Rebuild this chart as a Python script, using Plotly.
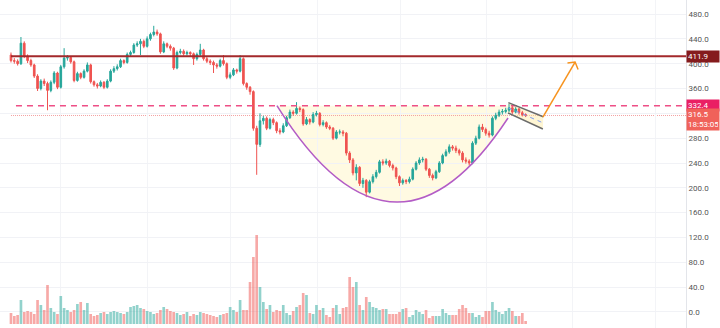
import plotly.graph_objects as go

# ---------------- data ----------------
first_open = 414
closes = [405, 404, 400, 433, 412, 405, 398, 380, 360, 372,
          368, 357, 370, 385, 362, 395, 409, 410, 403, 373,
          384, 378, 388, 398, 371, 366, 364, 370, 362, 372,
          388, 392, 395, 405, 402, 415, 418, 430, 432, 436,
          428, 440, 447, 451, 448, 419, 432, 428, 425, 393,
          418, 420, 416, 418, 416, 408, 415, 422, 408, 404,
          402, 398, 396, 405, 400, 378, 382, 390, 388, 408,
          368, 362, 355, 296, 270, 308, 312, 296, 310, 305,
          292, 290, 300, 313, 322, 320, 328, 326, 303, 310,
          306, 318, 320, 302, 305, 298, 296, 280, 290, 290,
          288, 256, 245, 224, 233, 207, 212, 193, 210, 218,
          225, 242, 240, 243, 236, 232, 218, 208, 212, 210,
          214, 230, 240, 245, 246, 230, 220, 216, 226, 240,
          252, 258, 266, 264, 260, 256, 245, 243, 240, 272,
          280, 298, 294, 288, 285, 312, 317, 322, 323, 325,
          329, 322, 327, 321, 318, 316.5]
highs = [418, 409, 407, 443, 436, 415, 408, 400, 383, 375,
         376, 371, 373, 388, 387, 398, 425, 414, 412, 405,
         387, 386, 391, 402, 400, 373, 369, 373, 372, 375,
         391, 396, 399, 408, 407, 418, 421, 433, 436, 440,
         439, 444, 450, 461, 455, 450, 436, 434, 431, 427,
         421, 424, 423, 421, 420, 418, 418, 432, 424, 411,
         407, 405, 401, 408, 414, 402, 386, 393, 392, 414,
         410, 370, 364, 357, 300, 320, 316, 315, 313, 313,
         307, 296, 304, 316, 326, 325, 338, 331, 328, 314,
         312, 322, 324, 322, 309, 307, 301, 298, 293, 294,
         293, 290, 259, 248, 238, 235, 216, 214, 213, 222,
         229, 245, 246, 247, 245, 239, 234, 220, 215, 214,
         218, 233, 243, 249, 250, 248, 232, 223, 229, 243,
         255, 262, 270, 269, 268, 263, 259, 249, 246, 275,
         284, 302, 303, 297, 292, 315, 321, 326, 327, 329,
         335, 332, 330, 329, 324, 320]
lows = [402, 400, 397, 398, 409, 401, 395, 377, 356, 357,
        364, 325, 354, 367, 359, 360, 392, 405, 400, 370,
        371, 375, 376, 386, 368, 363, 360, 362, 359, 360,
        370, 385, 389, 393, 399, 400, 412, 416, 427, 414,
        425, 426, 437, 444, 445, 416, 417, 425, 421, 390,
        391, 415, 413, 413, 412, 398, 405, 412, 405, 401,
        398, 385, 392, 394, 397, 375, 375, 380, 384, 386,
        365, 358, 350, 292, 221, 266, 302, 293, 294, 301,
        288, 286, 288, 298, 311, 316, 318, 322, 300, 301,
        302, 304, 315, 299, 299, 295, 293, 277, 278, 286,
        283, 252, 240, 220, 212, 203, 200, 185, 191, 207,
        215, 223, 236, 237, 233, 228, 214, 203, 205, 206,
        207, 212, 228, 237, 241, 227, 216, 212, 214, 224,
        238, 250, 255, 260, 256, 252, 241, 239, 236, 238,
        269, 278, 290, 284, 281, 283, 309, 314, 318, 320,
        322, 319, 320, 318, 315, 314]
volumes = [11, 8, 9, 24, 12, 13, 12, 10, 24, 19,
           14, 39, 16, 12, 10, 28, 16, 14, 12, 14,
           20, 22, 14, 21, 10, 8, 9, 11, 12, 10,
           12, 13, 12, 11, 10, 12, 17, 18, 19, 16,
           15, 13, 12, 10, 11, 14, 17, 15, 13, 12,
           11, 9, 10, 12, 8, 10, 9, 12, 11, 10,
           9, 8, 7, 9, 10, 11, 17, 14, 12, 24,
           14, 14, 42, 67, 89, 37, 22, 15, 19, 12,
           14, 13, 19, 11, 9, 13, 17, 19, 31, 29,
           11, 10, 19, 14, 16, 9, 7, 16, 19, 10,
           16, 17, 47, 37, 42, 19, 14, 27, 22, 17,
           16, 14, 15, 15, 10, 10, 10, 12, 15, 16,
           7, 9, 14, 12, 10, 14, 6, 8, 8, 8,
           15, 11, 9, 9, 9, 15, 19, 16, 11, 11,
           7, 9, 7, 13, 13, 22, 14, 12, 10, 13,
           16, 13, 8, 8, 11, 3]
price_ticks = [0, 40, 80, 120, 160, 200, 240, 280, 320, 360, 400, 440, 480]
resistance = 411.9
cup_rim = 332.4
last_price = 316.5
last_time = "18:53:05"

# drawing anchors (bar index, price) for the cup, flag and arrow
cup_start = (80.1, 332.4)
cup_bottom = (116.3, 177.0)
cup_end = (149.7, 312.5)
flag_top = [(149.8, 337.2), (160.3, 314.6)]
flag_bot = [(149.7, 320.5), (160.2, 294.8)]
arrow_tail = (160.2, 314.0)
arrow_head = (169.9, 402.7)
arrow_arms = [(167.6, 401.1), (170.8, 390.6)]
grid_x = [14.8, 41.0, 66.0, 92.2, 117.2, 143.1, 169.0, 194.0]

# ---------------- derived table ----------------
idx = list(range(len(closes)))
opens = [first_open] + closes[:-1]
UP, DN = "#26a69a", "#ef5350"
vol_colors = ["rgba(38,166,154,0.5)" if c >= o else "rgba(239,83,80,0.5)"
              for o, c in zip(opens, closes)]

fig = go.Figure()
fig.add_trace(go.Bar(x=idx, y=volumes, marker_color=vol_colors,
                     marker_line_width=0, yaxis="y2", hoverinfo="skip"))
fig.add_trace(go.Candlestick(
    x=idx, open=opens, high=highs, low=lows, close=closes,
    increasing=dict(line=dict(color=UP, width=1), fillcolor=UP),
    decreasing=dict(line=dict(color=DN, width=1), fillcolor=DN),
    whiskerwidth=0))

shapes = []
# cup fill + outline
cx1 = (cup_start[0] + cup_bottom[0]) / 2
cx2 = (cup_bottom[0] + cup_end[0]) / 2
cup_curve = (f"M {cup_start[0]},{cup_start[1]} Q {cx1},{cup_bottom[1]} {cup_bottom[0]},{cup_bottom[1]} "
             f"Q {cx2},{cup_bottom[1]} {cup_end[0]},{cup_end[1]}")
shapes.append(dict(type="path", path=cup_curve + f" L {cup_end[0]},{cup_rim} Z",
                   xref="x", yref="y", fillcolor="rgba(255,238,160,0.3)",
                   line=dict(width=0), layer="below"))
shapes.append(dict(type="path", path=cup_curve, xref="x", yref="y",
                   line=dict(color="#b35cc6", width=1.5), layer="above"))
# horizontal levels
shapes.append(dict(type="line", xref="x", yref="y", x0=0, x1=215, y0=resistance, y1=resistance,
                   line=dict(color="#a3292b", width=2), layer="above"))
shapes.append(dict(type="line", xref="x", yref="y", x0=1.5, x1=215, y0=cup_rim, y1=cup_rim,
                   line=dict(color="#ee4f86", width=1.5, dash="6px,5px"), layer="above"))
shapes.append(dict(type="line", xref="x", yref="y", x0=0, x1=215, y0=last_price, y1=last_price,
                   line=dict(color="#f4a0a0", width=1, dash="1px,1px"), layer="below"))
# flag
fp = (f"M {flag_top[0][0]},{flag_top[0][1]} L {flag_top[1][0]},{flag_top[1][1]} "
      f"L {flag_bot[1][0]},{flag_bot[1][1]} L {flag_bot[0][0]},{flag_bot[0][1]} Z")
shapes.append(dict(type="path", path=fp, xref="x", yref="y",
                   fillcolor="rgba(255,236,160,0.45)", line=dict(width=0), layer="below"))
for a, b in (flag_top, flag_bot):
    shapes.append(dict(type="line", xref="x", yref="y", x0=a[0], y0=a[1], x1=b[0], y1=b[1],
                       line=dict(color="#6b6b6b", width=1.5), layer="above"))
mid0 = ((flag_top[0][0] + flag_bot[0][0]) / 2, (flag_top[0][1] + flag_bot[0][1]) / 2)
mid1 = ((flag_top[1][0] + flag_bot[1][0]) / 2, (flag_top[1][1] + flag_bot[1][1]) / 2)
shapes.append(dict(type="line", xref="x", yref="y", x0=mid0[0], y0=mid0[1], x1=mid1[0], y1=mid1[1],
                   line=dict(color="#7e9cf2", width=1, dash="4px,4px"), layer="above"))
# arrow
shapes.append(dict(type="line", xref="x", yref="y", x0=arrow_tail[0], y0=arrow_tail[1],
                   x1=arrow_head[0], y1=arrow_head[1], line=dict(color="#f7931e", width=1.5)))
shapes.append(dict(type="path", xref="x", yref="y",
                   path=f"M {arrow_arms[0][0]},{arrow_arms[0][1]} L {arrow_head[0]},{arrow_head[1]} "
                        f"L {arrow_arms[1][0]},{arrow_arms[1][1]}",
                   line=dict(color="#f7931e", width=1.5)))

annotations = []
def price_label(text, y, bg, yshift=0):
    annotations.append(dict(xref="paper", yref="y", x=1, y=y, xanchor="left", yanchor="middle",
                            text=text, showarrow=False, bgcolor=bg, align="left",
                            font=dict(color="white", size=8, family="Roboto"),
                            width=30, borderpad=1, yshift=yshift))
price_label(f"{resistance:.1f}", resistance, "#851b1d")
price_label(f"{cup_rim:.1f}", cup_rim, "#ea1f64")
price_label(f"{last_price:.1f}<br>{last_time}", last_price, "#f0625a", yshift=-4)

fig.update_layout(
    width=720, height=328, margin=dict(l=0, r=34, t=0, b=0),
    paper_bgcolor="white", plot_bgcolor="white", showlegend=False,
    bargap=0.2, shapes=shapes, annotations=annotations,
    xaxis=dict(range=[-3.31, 203.3], tickvals=grid_x, showticklabels=False,
               showgrid=True, gridcolor="#f3f4f7", zeroline=False,
               rangeslider=dict(visible=False), ticks=""),
    yaxis=dict(side="right", range=[-25.8, 502.6], tickvals=price_ticks,
               ticktext=[f"{v:.1f}" for v in price_ticks], showgrid=True,
               gridcolor="#f1f2f6", zeroline=False, showline=True, linecolor="#e3e5ea",
               tickfont=dict(size=8, color="#555", family="Roboto"), ticks=""),
    yaxis2=dict(overlaying="y", range=[-4, 324], visible=False),
)
fig.write_html("out.html")
